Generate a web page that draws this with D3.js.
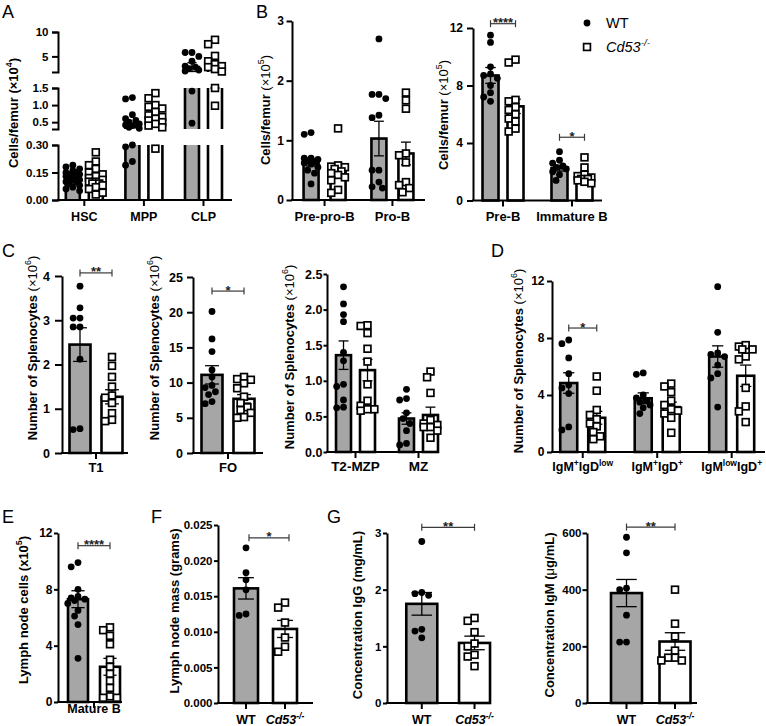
<!DOCTYPE html>
<html><head><meta charset="utf-8">
<script src="https://cdn.jsdelivr.net/npm/d3@7"></script>
<style>body{margin:0;background:#fff}svg{display:block}</style>
</head><body>
<script>
// ================= DATA =================
// Panel A (broken axis) cells/femur x10^4
const aCategories = ["HSC", "MPP", "CLP"];
const aWTPoints = [
  [0.19,0.18,0.17,0.16,0.15,0.15,0.14,0.14,0.13,0.13,0.12,0.12,0.11,0.11,0.10,0.10,0.09,0.08,0.07,0.06,0.05],
  [1.22,1.18,0.72,0.6,0.55,0.5,0.45,0.42,0.4,0.35,0.32,0.3,0.29,0.21,0.19],
  [5.8,5.8,5.0,4.0,3.0,2.8,2.5,2.2,2.0,1.41,0.47]
];
const aKOPoints = [
  [0.26,0.21,0.19,0.17,0.15,0.14,0.13,0.12,0.11,0.10,0.10,0.09,0.09,0.08,0.07,0.06,0.04,0.03],
  [1.35,1.2,1.0,0.95,0.9,0.8,0.7,0.65,0.6,0.55,0.5,0.45,0.4,0.35,0.28],
  [8.4,7.5,5.1,4.0,3.4,3.0,2.8,2.4,1.9,1.5,0.98]
];
const aWTMean = [0.12, 0.40, 2.8];
const aWTSem  = [0.008, 0.06, 0.9];
const aKOMean = [0.11, 0.45, 2.4];
const aKOSem  = [0.012, 0.05, 0.9];
const aTicksBottom = [0, 0.15, 0.30];
const aTicksMiddle = [0.5, 1.0, 1.5];
const aTicksTop = [5, 10];

// Panel B left: cells/femur x10^5
const b1Categories = ["Pre-pro-B", "Pro-B"];
const b1WTPoints = [
  [1.13,1.1,0.7,0.7,0.68,0.66,0.64,0.62,0.6,0.55,0.5,0.45,0.27],
  [2.7,1.77,1.77,1.7,1.42,1.38,0.5,0.5,0.3,0.22,0.2]
];
const b1KOPoints = [
  [1.2,0.58,0.56,0.55,0.52,0.48,0.45,0.42,0.38,0.33,0.17,0.12],
  [1.8,1.67,1.53,0.78,0.75,0.63,0.3,0.25,0.2,0.13]
];
const b1WTMean = [0.63, 1.03], b1WTSem = [0.06, 0.29];
const b1KOMean = [0.47, 0.78], b1KOSem = [0.08, 0.19];
const b1Ticks = [0, 1, 2, 3];

// Panel B right
const b2Categories = ["Pre-B", "Immature B"];
const b2WTPoints = [
  [11.5,11.0,9.3,8.8,8.7,8.5,8.0,7.5,7.2,6.9],
  [3.4,2.8,2.6,2.4,2.3,2.2,2.0,1.8,1.4]
];
const b2KOPoints = [
  [9.8,9.6,7.0,6.9,6.5,6.3,6.0,5.7,5.5,5.0,4.8],
  [3.0,2.3,1.8,1.7,1.6,1.5,1.5,1.4,1.3,1.2]
];
const b2WTMean = [8.7, 2.25], b2WTSem = [0.55, 0.2];
const b2KOMean = [6.55, 1.6], b2KOSem = [0.5, 0.15];
const b2Ticks = [0, 4, 8, 12];
const b2Sig = [{cat: "Pre-B", level: 12.3, label: "****"}, {cat: "Immature B", level: 4.4, label: "*"}];

// Panel C1 T1
const c1Categories = ["T1"];
const c1WTPoints = [[3.77,3.28,3.05,3.05,2.85,2.85,2.12,0.55,0.53]];
const c1KOPoints = [[2.17,1.97,1.72,1.5,1.3,1.25,1.13,0.9,0.75,0.72]];
const c1WTMean = [2.45], c1WTSem = [0.38], c1KOMean = [1.27], c1KOSem = [0.16];
const c1Ticks = [0, 1, 2, 3, 4];
const c1Sig = [{cat: "T1", level: 4.07, label: "**"}];

// Panel C2 FO
const c2Categories = ["FO"];
const c2WTPoints = [[20.1,16.2,14.4,11.8,10.8,9.6,9.3,8.7,8.3,7.3,7.0]];
const c2KOPoints = [[10.8,10.5,10.4,9.9,9.2,8.0,7.1,6.5,6.1,5.7,5.1,5.0]];
const c2WTMean = [11.1], c2WTSem = [1.3], c2KOMean = [7.7], c2KOSem = [0.6];
const c2Ticks = [0, 5, 10, 15, 20, 25];
const c2Sig = [{cat: "FO", level: 23, label: "*"}];

// Panel C3
const c3Categories = ["T2-MZP", "MZ"];
const c3WTPoints = [
  [2.32,2.08,1.93,1.83,1.4,1.28,0.95,0.92,0.73,0.63,0.62],
  [0.88,0.75,0.73,0.55,0.47,0.4,0.3,0.12,0.1]
];
const c3KOPoints = [
  [1.78,1.77,1.67,1.45,1.27,0.95,0.72,0.65,0.6,0.6,0.58],
  [1.13,1.05,0.83,0.45,0.4,0.38,0.35,0.35,0.3,0.2]
];
const c3WTMean = [1.36, 0.47], c3WTSem = [0.2, 0.08];
const c3KOMean = [1.15, 0.52], c3KOSem = [0.15, 0.11];
const c3Ticks = [0, 0.5, 1.0, 1.5, 2.0, 2.5];

// Panel D
const dCategories = ["IgM+IgDlow", "IgM+IgD+", "IgMlowIgD+"];
const dLabels = [
  [{t:"IgM"},{t:"+",sup:1},{t:"IgD"},{t:"low",sup:1}],
  [{t:"IgM"},{t:"+",sup:1},{t:"IgD"},{t:"+",sup:1}],
  [{t:"IgM"},{t:"low",sup:1},{t:"IgD"},{t:"+",sup:1}]
];
const dWTPoints = [
  [7.86,7.6,6.6,5.5,4.7,4.5,4.1,1.76,1.55],
  [5.55,5.45,4.0,3.8,3.6,3.5,3.3,3.1,2.7],
  [11.6,8.4,6.95,6.85,6.7,6.1,5.5,5.2,3.15]
];
const dKOPoints = [
  [5.3,4.3,2.95,2.6,2.3,2.0,1.8,1.4,1.1,0.9],
  [4.8,4.6,4.2,3.6,3.3,3.0,2.9,2.7,2.4,1.35],
  [7.5,7.4,7.2,7.2,6.7,6.5,4.5,3.2,2.85,2.1]
];
const dWTMean = [4.84, 3.77, 6.7], dWTSem = [0.72, 0.38, 0.75];
const dKOMean = [2.4, 3.15, 5.35], dKOSem = [0.45, 0.35, 0.75];
const dTicks = [0, 4, 8, 12];
const dSig = [{cat: "IgM+IgDlow", level: 8.7, label: "*"}];

// Panel E
const eCategories = ["Mature B"];
const eWTPoints = [[9.9,9.6,8.0,7.5,7.4,7.3,7.2,7.0,6.5,6.1,5.5,3.1]];
const eKOPoints = [[5.3,5.1,4.7,4.1,3.0,2.5,2.0,1.5,1.0,0.4,0.3,0.3]];
const eWTMean = [7.3], eWTSem = [0.6], eKOMean = [2.5], eKOSem = [0.6];
const eTicks = [0, 4, 8, 12];
const eSig = [{cat: "Mature B", level: 11.1, label: "****"}];

// Panels F, G : genotypes on x axis
const genotypes = ["WT", "Cd53-/-"];
const fPoints = [[0.0218,0.0183,0.0173,0.0159,0.0125,0.0123],[0.0141,0.0134,0.0113,0.0092,0.0079,0.0072]];
const fMean = [0.0161, 0.0104], fSem = [0.0015, 0.0012];
const fTicks = [0, 0.005, 0.010, 0.015, 0.020, 0.025];
const fSig = {level: 0.0232, label: "*"};

const g1Points = [[2.85,1.95,1.93,1.9,1.3,1.27,1.15],[1.5,1.45,1.25,1.05,1.0,0.85,0.82,0.65]];
const g1Mean = [1.75, 1.06], g1Sem = [0.2, 0.12];
const g1Ticks = [0, 1, 2, 3];
const g1Sig = {level: 3.1, label: "**"};

const g2Points = [[585,530,405,400,310,215,215],[400,280,235,185,160,160,150,150]];
const g2Mean = [388, 217], g2Sem = [48, 31];
const g2Ticks = [0, 200, 400, 600];
const g2Sig = {level: 621, label: "**"};

// ================= DRAWING =================
const FONT = "'Liberation Sans', Arial, Helvetica, sans-serif";
const GRAY = "#a6a6a6";
const svg = d3.select("body").append("svg").attr("width", 766).attr("height", 726)
  .style("font-family", FONT);

function rich(textSel, parts, size) {
  let up = false;
  parts.forEach(p => {
    const ts = textSel.append("tspan").text(p.t);
    if (p.sup && !up) ts.attr("dy", -size * 0.4);
    if (!p.sup && up) ts.attr("dy", size * 0.4);
    if (p.sup) ts.attr("font-size", size * 0.68);
    if (p.w) ts.attr("font-weight", p.w);
    if (p.i) ts.attr("font-style", "italic");
    up = !!p.sup;
  });
}

function letter(txt, x, y) {
  svg.append("text").attr("x", x).attr("y", y).attr("font-size", 18).text(txt);
}

function yTitle(x, y, parts) {
  const t = svg.append("text").attr("transform", `translate(${x},${y}) rotate(-90)`)
    .attr("text-anchor", "middle").attr("dy", "0.35em").attr("font-size", 13).attr("font-weight", "bold");
  rich(t, parts, 13);
}

function yAxis(scale, ticks, fmt, x, tk, outer) {
  const ax = d3.axisLeft(scale).tickValues(ticks).tickFormat(fmt).tickSize(tk.size)
    .tickSizeOuter(outer ? tk.size : 0).tickPadding(tk.pad);
  const g = svg.append("g").attr("transform", `translate(${x},0)`).call(ax);
  g.selectAll("path,line").attr("stroke", "#000").attr("stroke-width", 2);
  g.selectAll("text").attr("font-size", tk.font).attr("font-weight", "bold").attr("fill", "#000")
    .attr("font-family", FONT);
  return g;
}

function xAxis(xs, y0, x0, x1) {
  const g = svg.append("g");
  g.append("line").attr("x1", x0 - 1).attr("x2", x1).attr("y1", y0).attr("y2", y0)
    .attr("stroke", "#000").attr("stroke-width", 2);
  xs.domain().forEach(c => {
    g.append("line").attr("x1", xs(c)).attr("x2", xs(c)).attr("y1", y0).attr("y2", y0 + 6)
      .attr("stroke", "#000").attr("stroke-width", 2);
  });
}

function xLabels(xs, yb, labelParts, size) {
  xs.domain().forEach((c, i) => {
    const t = svg.append("text").attr("x", xs(c)).attr("y", yb).attr("text-anchor", "middle")
      .attr("font-size", size || 12).attr("font-weight", "bold");
    rich(t, labelParts ? labelParts[i] : [{t: c}], size || 12);
  });
}

function swarm(vals, yf, cx, halfW) {
  const R = 3.6, D = 2 * R * 0.9, step = R * 0.95;
  const pts = vals.map(v => ({v, y: yf(v)})).filter(p => p.y != null && isFinite(p.y));
  pts.sort((a, b) => a.y - b.y);
  const placed = [];
  const cands = [0];
  for (let k = 1; k * step <= halfW; k++) cands.push(-k * step, k * step);
  pts.forEach(p => {
    let bestOff = 0, bestD = -1;
    for (const off of cands) {
      let minD = Infinity;
      for (const q of placed) {
        const d = Math.hypot(q.x - (cx + off), q.y - p.y);
        if (d < minD) minD = d;
      }
      if (minD >= D) { bestOff = off; bestD = Infinity; break; }
      if (minD > bestD) { bestD = minD; bestOff = off; }
    }
    p.x = cx + bestOff; placed.push(p);
  });
  return pts;
}

function drawPoints(pts, type) {
  const g = svg.append("g");
  pts.forEach(p => {
    if (type === "wt") {
      g.append("circle").attr("cx", p.x).attr("cy", p.y).attr("r", 3.4).attr("fill", "#000");
    } else {
      g.append("rect").attr("x", p.x - 3.4).attr("y", p.y - 3.4).attr("width", 6.8).attr("height", 6.8)
        .attr("fill", "#fff").attr("stroke", "#000").attr("stroke-width", 1.7);
    }
  });
}

function errLine(g, cx, ya, yb) {
  g.append("line").attr("x1", cx).attr("x2", cx).attr("y1", ya).attr("y2", yb)
    .attr("stroke", "#000").attr("stroke-width", 1.3);
}
function errCap(g, cx, y, hw) {
  g.append("line").attr("x1", cx - hw).attr("x2", cx + hw).attr("y1", y).attr("y2", y)
    .attr("stroke", "#000").attr("stroke-width", 1.3);
}

// generic linear panel
function linearPanel(cfg) {
  const y = cfg.y;
  const xs = d3.scalePoint().domain(cfg.cats).range([cfg.x0, cfg.x1]).padding(cfg.pad).align(cfg.align);
  const bars = cfg.bars.map(b => Object.assign({}, b, {cx: xs(b.cat) + b.dx}));
  const y0 = y(0);
  const gb = svg.append("g");
  bars.forEach(b => {
    gb.append("rect").attr("x", b.cx - cfg.barW / 2).attr("y", y(b.mean))
      .attr("width", cfg.barW).attr("height", y0 - y(b.mean))
      .attr("fill", b.type === "wt" ? GRAY : "#fff").attr("stroke", "#000").attr("stroke-width", 2.6);
  });
  const ge = svg.append("g");
  bars.forEach(b => {
    const hw = cfg.barW * 0.33;
    errLine(ge, b.cx, y(b.mean - b.sem), y(b.mean + b.sem));
    errCap(ge, b.cx, y(b.mean + b.sem), hw);
    errCap(ge, b.cx, y(b.mean - b.sem), hw);
  });
  bars.forEach(b => drawPoints(swarm(b.pts, v => y(v), b.cx, cfg.barW / 2 + 1.5), b.type));
  yAxis(y, cfg.ticks, cfg.fmt, cfg.x0, cfg.tk);
  xAxis(xs, y0, cfg.x0, cfg.axisEnd);
  xLabels(xs, cfg.labelY, cfg.labelParts, cfg.labelSize);
  (cfg.sig || []).forEach(s => {
    const a = bars.find(b => b.cat === s.cat && b.type === "wt");
    const k = bars.find(b => b.cat === s.cat && b.type === "ko");
    sigBracket(a.cx, k.cx, y(s.level), s.label);
  });
  return {xs, bars};
}

function sigBracket(xa, xb, yy, label) {
  const g = svg.append("g").attr("stroke", "#3a3a3a").attr("stroke-width", 1.2);
  g.append("line").attr("x1", xa).attr("x2", xb).attr("y1", yy).attr("y2", yy);
  g.append("line").attr("x1", xa).attr("x2", xa).attr("y1", yy - 3.5).attr("y2", yy + 3.5);
  g.append("line").attr("x1", xb).attr("x2", xb).attr("y1", yy - 3.5).attr("y2", yy + 3.5);
  svg.append("text").attr("x", (xa + xb) / 2).attr("y", yy + 3.5).attr("text-anchor", "middle")
    .attr("font-size", 13).attr("font-weight", "bold").attr("fill", "#222").text(label);
}

function grouped(cats, wtP, koP, wtM, wtS, koM, koS, off) {
  const out = [];
  cats.forEach((c, i) => {
    out.push({cat: c, type: "wt", pts: wtP[i], mean: wtM[i], sem: wtS[i], dx: -off});
    out.push({cat: c, type: "ko", pts: koP[i], mean: koM[i], sem: koS[i], dx: off});
  });
  return out;
}
function single(cats, pts, m, s) {
  return cats.map((c, i) => ({cat: c, type: i === 0 ? "wt" : "ko", pts: pts[i], mean: m[i], sem: s[i], dx: 0}));
}
const genoLabels = [[{t: "WT"}], [{t: "Cd53", i: 1}, {t: "-/-", sup: 1, i: 1}]];

// ---------- Panel A (broken axis) ----------
(function () {
  const segs = [
    {s: d3.scaleLinear().domain([0, 0.30]).range([200, 145]), ticks: aTicksBottom, fmt: d3.format(".2f")},
    {s: d3.scaleLinear().domain([0.30, 1.5]).range([129, 88]), ticks: aTicksMiddle, fmt: d3.format(".1f")},
    {s: d3.scaleLinear().domain([1.8, 10]).range([72, 32]), ticks: aTicksTop, fmt: d3.format("d")}
  ];
  const yf = v => { for (const g of segs) { const [d0, d1] = g.s.domain(); if (v >= d0 && v <= d1) return g.s(v); } return null; };
  const x0 = 58, axisEnd = 232, barW = 14;
  const xs = d3.scalePoint().domain(aCategories).range([x0, axisEnd]).padding(0.46).align(0.48);
  const bars = grouped(aCategories, aWTPoints, aKOPoints, aWTMean, aWTSem, aKOMean, aKOSem, 11.5)
    .map(b => Object.assign(b, {cx: xs(b.cat) + b.dx}));
  const gb = svg.append("g");
  bars.forEach(b => {
    segs.forEach(g => {
      const [d0, d1] = g.s.domain();
      const lo = Math.max(d0, 0), hi = Math.min(b.mean, d1);
      if (hi <= lo) return;
      const xl = b.cx - barW / 2, xr = b.cx + barW / 2;
      gb.append("rect").attr("x", xl).attr("y", g.s(hi)).attr("width", barW).attr("height", g.s(lo) - g.s(hi))
        .attr("fill", b.type === "wt" ? GRAY : "#fff");
      const p = b.mean <= d1
        ? `M${xl},${g.s(lo)}V${g.s(hi)}H${xr}V${g.s(lo)}`
        : `M${xl},${g.s(lo)}V${g.s(hi)}M${xr},${g.s(hi)}V${g.s(lo)}`;
      gb.append("path").attr("d", p).attr("fill", "none").attr("stroke", "#000").attr("stroke-width", 2.6);
    });
  });
  const ge = svg.append("g");
  bars.forEach(b => {
    const lo = b.mean - b.sem, hi = b.mean + b.sem;
    segs.forEach(g => {
      const [d0, d1] = g.s.domain();
      const a = Math.max(lo, d0), c = Math.min(hi, d1);
      if (c > a) errLine(ge, b.cx, g.s(a), g.s(c));
      if (hi >= d0 && hi <= d1) errCap(ge, b.cx, g.s(hi), barW * 0.33);
      if (lo >= d0 && lo <= d1) errCap(ge, b.cx, g.s(lo), barW * 0.33);
    });
  });
  bars.forEach(b => drawPoints(swarm(b.pts, yf, b.cx, barW / 2 + 2), b.type));
  segs.forEach(g => yAxis(g.s, g.ticks, g.fmt, x0, {size: 6, pad: 3.5, font: 11.5}, true));
  xAxis(xs, 200, x0, axisEnd);
  xLabels(xs, 221, null, 12.5);
  yTitle(13, 113, [{t: "Cells/femur (×10"}, {t: "4", sup: 1}, {t: ")"}]);
})();
letter("A", 2, 18);

// ---------- Panel B ----------
linearPanel({
  y: d3.scaleLinear().domain([0, 3]).range([200, 21]), ticks: b1Ticks, fmt: d3.format("d"),
  tk: {size: 5.5, pad: 2.5, font: 12},
  cats: b1Categories, x0: 292, x1: 425, axisEnd: 425, pad: 0.48, align: 0.5, barW: 15, labelY: 221, labelSize: 13,
  bars: grouped(b1Categories, b1WTPoints, b1KOPoints, b1WTMean, b1WTSem, b1KOMean, b1KOSem, 13.5)
});
yTitle(265, 110, [{t: "Cells/femur "}, {t: "(×10", w: "normal"}, {t: "5", sup: 1, w: "normal"}, {t: ")", w: "normal"}]);
linearPanel({
  y: d3.scaleLinear().domain([0, 12]).range([200.5, 28]), ticks: b2Ticks, fmt: d3.format("d"),
  tk: {size: 6, pad: 4, font: 12},
  cats: b2Categories, x0: 473, x1: 602, axisEnd: 602, pad: 0.435, align: 0.5, barW: 16, labelY: 221, labelSize: 13,
  bars: grouped(b2Categories, b2WTPoints, b2KOPoints, b2WTMean, b2WTSem, b2KOMean, b2KOSem, 12.5),
  sig: b2Sig
});
yTitle(443, 115, [{t: "Cells/femur "}, {t: "(×10", w: "normal"}, {t: "5", sup: 1, w: "normal"}, {t: ")", w: "normal"}]);
letter("B", 256, 18);
// legend
svg.append("circle").attr("cx", 587).attr("cy", 23).attr("r", 3.4).attr("fill", "#000");
svg.append("rect").attr("x", 583.6).attr("y", 43.6).attr("width", 6.8).attr("height", 6.8)
  .attr("fill", "#fff").attr("stroke", "#000").attr("stroke-width", 1.7);
svg.append("text").attr("x", 606).attr("y", 28).attr("font-size", 14.5).text("WT");
rich(svg.append("text").attr("x", 606).attr("y", 52).attr("font-size", 14.5),
  [{t: "Cd53", i: 1}, {t: "-/-", sup: 1, i: 1}], 14.5);

// ---------- Panel C ----------
const splenoTitle = [{t: "Number of Splenocytes "}, {t: "(×10", w: "normal"}, {t: "6", sup: 1, w: "normal"}, {t: ")", w: "normal"}];
linearPanel({
  y: d3.scaleLinear().domain([0, 4]).range([453, 276]), ticks: c1Ticks, fmt: d3.format("d"),
  tk: {size: 7, pad: 5, font: 12.5},
  cats: c1Categories, x0: 62, x1: 130, axisEnd: 128, pad: 0.5, align: 0.5, barW: 21, labelY: 472, labelSize: 13,
  bars: grouped(c1Categories, c1WTPoints, c1KOPoints, c1WTMean, c1WTSem, c1KOMean, c1KOSem, 16), sig: c1Sig
});
yTitle(32, 348, splenoTitle);
linearPanel({
  y: d3.scaleLinear().domain([0, 25]).range([453, 277]), ticks: c2Ticks, fmt: d3.format("d"),
  tk: {size: 6, pad: 4, font: 12.5},
  cats: c2Categories, x0: 193, x1: 263, axisEnd: 263, pad: 0.5, align: 0.5, barW: 21, labelY: 472, labelSize: 13,
  bars: grouped(c2Categories, c2WTPoints, c2KOPoints, c2WTMean, c2WTSem, c2KOMean, c2KOSem, 16), sig: c2Sig
});
yTitle(154, 348, splenoTitle);
linearPanel({
  y: d3.scaleLinear().domain([0, 2.5]).range([452, 274]), ticks: c3Ticks, fmt: d3.format(".1f"),
  tk: {size: 3.5, pad: 1, font: 12.5},
  cats: c3Categories, x0: 327, x1: 440, axisEnd: 439, pad: 0.397, align: 0.57, barW: 15, labelY: 471, labelSize: 13.5,
  bars: grouped(c3Categories, c3WTPoints, c3KOPoints, c3WTMean, c3WTSem, c3KOMean, c3KOSem, 12)
});
yTitle(289, 357, splenoTitle);
letter("C", 2, 257);

// ---------- Panel D ----------
linearPanel({
  y: d3.scaleLinear().domain([0, 12]).range([452, 281]), ticks: dTicks, fmt: d3.format("d"),
  tk: {size: 5, pad: 2.5, font: 12},
  cats: dCategories, x0: 552, x1: 765, axisEnd: 765, pad: 0.43, align: 0.48, barW: 17, labelY: 471, labelSize: 12.5,
  labelParts: dLabels,
  bars: grouped(dCategories, dWTPoints, dKOPoints, dWTMean, dWTSem, dKOMean, dKOSem, 14), sig: dSig
});
yTitle(518, 361, splenoTitle);
letter("D", 491, 257);

// ---------- Panel E ----------
linearPanel({
  y: d3.scaleLinear().domain([0, 12]).range([702, 533]), ticks: eTicks, fmt: d3.format("d"),
  tk: {size: 4, pad: 1.5, font: 12},
  cats: eCategories, x0: 58, x1: 130, axisEnd: 122, pad: 0.5, align: 0.5, barW: 20, labelY: 713, labelSize: 12.5,
  bars: grouped(eCategories, eWTPoints, eKOPoints, eWTMean, eWTSem, eKOMean, eKOSem, 16), sig: eSig
});
yTitle(23, 610, [{t: "Lymph node cells (x10"}, {t: "5", sup: 1}, {t: ")"}]);
letter("E", 2, 523);

// ---------- Panel F ----------
(function () {
  const y = d3.scaleLinear().domain([0, 0.025]).range([703, 525]);
  const r = linearPanel({
    y: y, ticks: fTicks, fmt: d3.format(".3f"), tk: {size: 4, pad: 1.5, font: 11.5},
    cats: genotypes, x0: 218, x1: 313, axisEnd: 313, pad: 0.718, align: 0.5, barW: 24, labelY: 724, labelSize: 12.5,
    labelParts: genoLabels, bars: single(genotypes, fPoints, fMean, fSem)
  });
  sigBracket(r.bars[0].cx + 3, r.bars[1].cx + 4, y(fSig.level), fSig.label);
})();
yTitle(174, 611, [{t: "Lymph node mass (grams)"}]);
letter("F", 151, 523);

// ---------- Panel G ----------
(function () {
  const y1 = d3.scaleLinear().domain([0, 3]).range([703, 533]);
  const r1 = linearPanel({
    y: y1, ticks: g1Ticks, fmt: d3.format("d"), tk: {size: 4, pad: 1.5, font: 11.5},
    cats: genotypes, x0: 387, x1: 499, axisEnd: 490, pad: 0.562, align: 0.587, barW: 31, labelY: 724, labelSize: 12.5,
    labelParts: genoLabels, bars: single(genotypes, g1Points, g1Mean, g1Sem)
  });
  sigBracket(r1.bars[0].cx, r1.bars[1].cx, y1(g1Sig.level), g1Sig.label);
  const y2 = d3.scaleLinear().domain([0, 600]).range([703, 533]);
  const r2 = linearPanel({
    y: y2, ticks: g2Ticks, fmt: d3.format("d"), tk: {size: 4.5, pad: 1, font: 11.5},
    cats: genotypes, x0: 587, x1: 698, axisEnd: 697, pad: 0.644, align: 0.632, barW: 31, labelY: 724, labelSize: 12.5,
    labelParts: genoLabels, bars: single(genotypes, g2Points, g2Mean, g2Sem)
  });
  sigBracket(r2.bars[0].cx, r2.bars[1].cx, y2(g2Sig.level), g2Sig.label);
})();
yTitle(357, 615, [{t: "Concentration IgG (mg/mL)"}]);
yTitle(549, 615, [{t: "Concentration IgM ("}, {t: "μ", w: "normal"}, {t: "g/mL)"}]);
letter("G", 327, 523);
</script>
</body></html>
